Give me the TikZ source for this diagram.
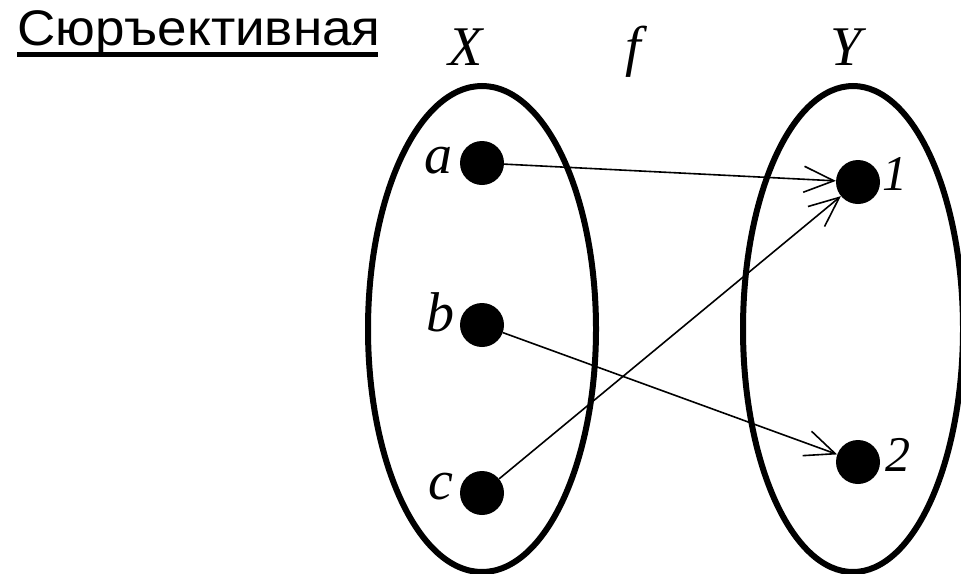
\documentclass[tikz,border=0pt]{standalone}
\usepackage{fontspec}
\setmainfont{Liberation Serif}
\newfontfamily\titlefont{Liberation Sans}
\usetikzlibrary{arrows.meta}
\begin{document}
\begin{tikzpicture}[x=1pt,y=-1pt,
  setellipse/.style={line width=6pt},
  elem/.style={circle,fill=black,minimum size=44pt,inner sep=0pt},
  lbl/.style={font=\fontsize{56}{56}\selectfont\itshape,inner sep=0pt},
  numlbl/.style={font=\fontsize{50}{50}\selectfont\itshape,inner sep=0pt},
  maparrow/.style={line width=1.6pt,-{Straight Barb[length=30pt,width=26pt,line width=1.6pt]}}]
\useasboundingbox (0,0) rectangle (961,573);
% title
\node[anchor=base west,inner sep=0pt,xscale=1.06,font=\fontsize{50}{50}\selectfont\titlefont] (title) at (17,45) {Сюръективная};
\draw[line width=5pt] (17,54) -- (378,54);
% sets
\draw[setellipse] (482,329) ellipse [x radius=114pt,y radius=243pt];
\draw[setellipse] (853,329) ellipse [x radius=110pt,y radius=243pt];
% headers
\node[lbl,anchor=base] (X) at (466,65) {X};
\node[lbl,anchor=base] (f) at (633,65) {f};
\node[lbl,anchor=base] (Y) at (846,65) {Y};
% elements
\node[elem] (a) at (482,163) {};
\node[elem] (b) at (482,325) {};
\node[elem] (c) at (482,493) {};
\node[elem] (one) at (858,182) {};
\node[elem] (two) at (858,462) {};
\node[lbl,anchor=base east] (la) at (453,173) {a};
\node[lbl,anchor=base east] (lb) at (455,331) {b};
\node[lbl,anchor=base east] (lc) at (454,499) {c};
\node[numlbl,anchor=base west] (l1) at (882,190) {1};
\node[numlbl,anchor=base west] (l2) at (885,471) {2};
% maps
\draw[maparrow] (a) -- (one);
\draw[maparrow] (c) -- (one);
\draw[maparrow] (b) -- (two);
\end{tikzpicture}
\end{document}
